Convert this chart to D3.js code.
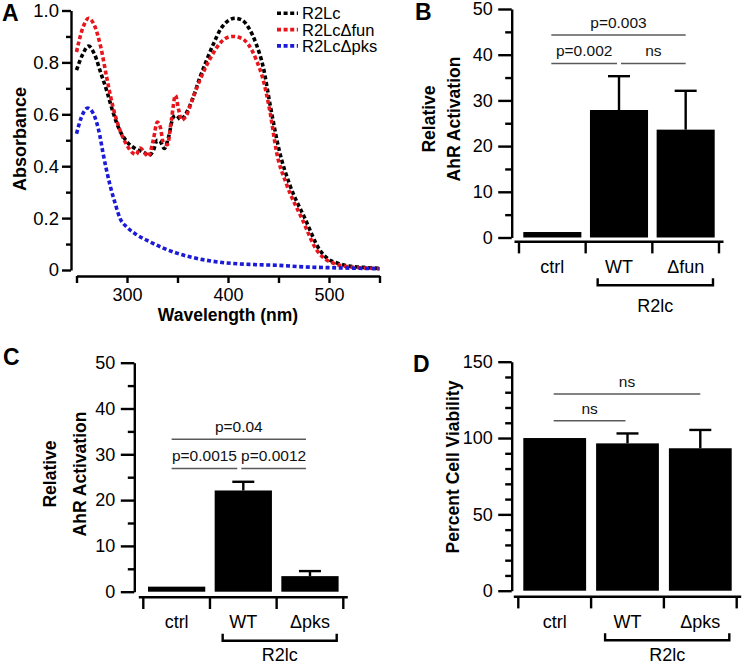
<!DOCTYPE html>
<html>
<head>
<meta charset="utf-8">
<script src="https://cdn.jsdelivr.net/npm/d3@7/dist/d3.min.js"></script>
<style>
  html, body { margin: 0; padding: 0; background: #fff; }
  svg { display: block; }
</style>
</head>
<body>
<svg id="chart" width="742" height="666"></svg>
<script>
// ---------------- DATA ----------------
// Panel A: absorbance spectra [wavelength nm, absorbance]
const specR2Lc = [[250,.77],[256,.83],[262,.863],[268,.83],[274,.76],[280,.69],[286,.61],[292,.545],[300,.494],[308,.468],[316,.455],[322,.442],[326,.46],[330,.50],[333,.495],[337,.468],[341,.51],[346,.59],[349,.595],[353,.58],[358,.6],[365,.66],[372,.74],[379,.81],[386,.875],[393,.93],[400,.96],[407,.97],[414,.963],[421,.93],[428,.87],[435,.78],[442,.63],[451,.456],[461,.33],[476,.2],[491,.076],[500,.04],[508,.027],[520,.015],[535,.01],[550,.006]];
const specFun = [[250,.84],[256,.93],[262,.97],[268,.94],[274,.86],[280,.74],[286,.63],[292,.55],[300,.48],[306,.45],[309,.445],[313,.47],[317,.455],[321,.437],[326,.5],[330,.57],[333,.55],[336,.49],[340,.483],[344,.58],[348,.673],[351,.62],[354,.578],[358,.59],[365,.66],[372,.73],[379,.79],[386,.84],[393,.878],[400,.897],[405,.9],[412,.895],[420,.87],[428,.81],[435,.73],[442,.6],[448,.456],[458,.33],[473,.2],[488,.076],[497,.04],[505,.025],[520,.012],[535,.008],[550,.005]];
const specPks = [[250,.525],[255,.59],[261,.624],[267,.6],[273,.52],[276,.456],[283,.33],[288,.26],[293,.2],[300,.165],[310,.135],[320,.114],[335,.086],[350,.064],[375,.04],[399,.027],[425,.021],[449,.018],[475,.012],[500,.009],[525,.007],[550,.005]];
const seriesNames = ["R2Lc", "R2Lc\u0394fun", "R2Lc\u0394pks"];
const seriesColors = ["#000000", "#e8161c", "#1a1ad8"];
const absTicks = [0, 0.2, 0.4, 0.6, 0.8, 1.0];
const wlTicks = [300, 400, 500];

// Panel B
const catsB = ["ctrl", "WT", "\u0394fun"];
const valsB = [1.2, 27.9, 23.6];
const errB = [0, 7.4, 8.5];
const sigB = [
  {a: 0, b: 2, label: "p=0.003", v: 44.3},
  {a: 0, b: 1, label: "p=0.002", v: 38.1},
  {a: 1, b: 2, label: "ns", v: 38.1}
];
// Panel C
const catsC = ["ctrl", "WT", "\u0394pks"];
const valsC = [1.1, 22.1, 3.4];
const errC = [0, 1.9, 1.1];
const sigC = [
  {a: 0, b: 2, label: "p=0.04", v: 33.3},
  {a: 0, b: 1, label: "p=0.0015", v: 26.9},
  {a: 1, b: 2, label: "p=0.0012", v: 26.9}
];
// Panel D
const catsD = ["ctrl", "WT", "\u0394pks"];
const valsD = [100, 96.5, 93.3];
const errD = [0, 6.5, 12];
const sigD = [
  {a: 0, b: 2, label: "ns", v: 128.8},
  {a: 0, b: 1, label: "ns", v: 111.3}
];
const groupLabel = "R2lc";

// ---------------- DRAW ----------------
const FONT = "'Liberation Sans', Arial, Helvetica, sans-serif";
const svg = d3.select("#chart").style("font-family", FONT);
svg.append("rect").attr("width", 742).attr("height", 666).attr("fill", "#fff");

function styleAxis(sel, fs) {
  sel.selectAll("path, line").attr("stroke", "#000").attr("stroke-width", 2.4);
  sel.selectAll("text").attr("font-size", fs).attr("font-family", FONT).attr("fill", "#000");
  sel.attr("font-size", fs);
}
function panelLetter(t, x, y) {
  svg.append("text").attr("x", x).attr("y", y).text(t)
    .attr("font-size", 23).attr("font-weight", "bold").attr("fill", "#000");
}

// ---- Panel A ----
(function() {
  const x = d3.scaleLinear().domain([250, 550]).range([76.5, 379.5]);
  const y = d3.scaleLinear().domain([0, 1]).range([270, 10.5]);
  const ax = 71;
  const yMaj = svg.append("g").attr("transform", `translate(${ax},0)`)
    .call(d3.axisLeft(y).tickValues(absTicks).tickSize(9).tickPadding(3).tickSizeOuter(0)
      .tickFormat(d => d === 0 ? "0" : d3.format(".1f")(d)));
  styleAxis(yMaj, 18.5);
  const yMin = svg.append("g").attr("transform", `translate(${ax},0)`)
    .call(d3.axisLeft(y).tickValues([0.1, 0.3, 0.5, 0.7, 0.9]).tickSize(5).tickFormat("").tickSizeOuter(0));
  styleAxis(yMin, 18);
  yMin.select("path").remove();

  const xMaj = svg.append("g").attr("transform", "translate(0,276)")
    .call(d3.axisBottom(x).tickValues(wlTicks).tickSize(7).tickPadding(5).tickSizeOuter(0));
  styleAxis(xMaj, 18);
  const xMin = svg.append("g").attr("transform", "translate(0,276)")
    .call(d3.axisBottom(x).tickValues([250, 350, 450, 550]).tickSize(7).tickFormat("").tickSizeOuter(0));
  styleAxis(xMin, 18);
  xMin.select("path").remove();

  svg.append("text").attr("transform", "translate(20,139) rotate(-90)")
    .attr("text-anchor", "middle").attr("dy", "0.35em")
    .attr("font-size", 18).attr("font-weight", "bold").text("Absorbance");
  svg.append("text").attr("x", 228).attr("y", 320.5).attr("text-anchor", "middle")
    .attr("font-size", 17.5).attr("font-weight", "bold").text("Wavelength (nm)");

  const line = d3.line().x(d => x(d[0])).y(d => y(d[1])).curve(d3.curveMonotoneX);
  const all = [specR2Lc, specFun, specPks];
  all.forEach((s, i) => {
    svg.append("path").attr("d", line(s)).attr("fill", "none")
      .attr("stroke", seriesColors[i]).attr("stroke-width", 3.6)
      .attr("stroke-dasharray", "4 2.6");
  });

  // legend
  seriesNames.forEach((n, i) => {
    const ly = 13.3 + i * 16.3;
    svg.append("line").attr("x1", 277).attr("x2", 298).attr("y1", ly).attr("y2", ly)
      .attr("stroke", seriesColors[i]).attr("stroke-width", 3.6).attr("stroke-dasharray", "4 2.6");
    svg.append("text").attr("x", 302).attr("y", ly).attr("dy", "0.36em")
      .attr("font-size", 16.5).attr("fill", "#000").text(n);
  });
  panelLetter("A", 2, 21);
})();

// ---- Bar panels ----
function barPanel(o) {
  const y = d3.scaleLinear().domain([0, o.yMax]).range([o.y0, o.y1]);
  const x = d3.scaleBand().domain(o.cats.map((c, i) => i)).range(o.xRange).padding(0);
  const bw = x.bandwidth();
  const cx = i => x(i) + bw / 2;

  // bars
  svg.append("g").selectAll("rect").data(o.vals).join("rect")
    .attr("x", (d, i) => x(i) + o.inset).attr("width", bw - 2 * o.inset)
    .attr("y", d => y(d)).attr("height", d => y(0) - y(d)).attr("fill", "#000");
  // error bars (upper)
  const eg = svg.append("g");
  o.vals.forEach((v, i) => {
    if (!o.errs[i]) return;
    const yt = y(v + o.errs[i]);
    eg.append("line").attr("x1", cx(i)).attr("x2", cx(i)).attr("y1", y(v)).attr("y2", yt)
      .attr("stroke", "#000").attr("stroke-width", 2.4);
    eg.append("line").attr("x1", cx(i) - 11).attr("x2", cx(i) + 11).attr("y1", yt).attr("y2", yt)
      .attr("stroke", "#000").attr("stroke-width", 2.4);
  });

  // y axis
  const ya = svg.append("g").attr("transform", `translate(${o.ax},0)`)
    .call(d3.axisLeft(y).tickValues(o.major).tickSize(13.5).tickPadding(5.5).tickSizeOuter(0));
  styleAxis(ya, 18);
  const ym = svg.append("g").attr("transform", `translate(${o.ax},0)`)
    .call(d3.axisLeft(y).tickValues(o.minor).tickSize(6.5).tickFormat("").tickSizeOuter(0));
  styleAxis(ym, 18);
  ym.select("path").remove();

  // x axis line + boundary ticks
  const n = o.cats.length;
  const bounds = d3.range(n + 1).map(i => o.xRange[0] + i * bw);
  svg.append("line").attr("x1", o.xRange[0] - 4.5).attr("x2", o.xRange[1] + 4.5)
    .attr("y1", o.xAxisY).attr("y2", o.xAxisY).attr("stroke", "#000").attr("stroke-width", 2.4);
  bounds.forEach(b => {
    svg.append("line").attr("x1", b).attr("x2", b).attr("y1", o.xAxisY).attr("y2", o.xAxisY + 11.7)
      .attr("stroke", "#000").attr("stroke-width", 2.4);
  });
  o.cats.forEach((c, i) => {
    svg.append("text").attr("x", cx(i)).attr("y", o.xAxisY + 31).attr("text-anchor", "middle")
      .attr("font-size", 18).attr("fill", "#000").text(c);
  });
  // bracket under WT + mutant
  const bx1 = x(1) + o.brL, bx2 = x(n - 1) + bw - o.brR, by = o.xAxisY + 43.5;
  svg.append("path").attr("d", `M${bx1},${by - 7}V${by}H${bx2}V${by - 7}`)
    .attr("fill", "none").attr("stroke", "#000").attr("stroke-width", 2.4);
  svg.append("text").attr("x", (bx1 + bx2) / 2).attr("y", o.xAxisY + o.grpDy).attr("text-anchor", "middle")
    .attr("font-size", 18).attr("fill", "#000").text(groupLabel);

  // significance
  o.sigs.forEach(s => {
    const x1 = cx(s.a) + (s.a > 0 ? 2 : -1) + o.sigShift;
    const x2 = cx(s.b) - (s.b < n - 1 ? 2 : 0) + o.sigShift;
    const ly = y(s.v);
    svg.append("line").attr("x1", x1).attr("x2", x2).attr("y1", ly).attr("y2", ly)
      .attr("stroke", "#5a5a5a").attr("stroke-width", 1.5);
    svg.append("text").attr("x", (x1 + x2) / 2).attr("y", ly - 7).attr("text-anchor", "middle")
      .attr("font-size", 15.5).attr("fill", "#111").text(s.label);
  });

  // y label
  o.ylab.forEach((t, i) => {
    svg.append("text").attr("transform", `translate(${o.ylabX[i]},${o.ylabY}) rotate(-90)`)
      .attr("text-anchor", "middle").attr("dy", "0.35em")
      .attr("font-size", 17.5).attr("font-weight", "bold").attr("fill", "#000").text(t);
  });
}

barPanel({
  cats: catsB, vals: valsB, errs: errB, sigs: sigB, yMax: 50,
  y0: 237.5, y1: 9, ax: 511.7, xRange: [519, 719], inset: 4.3, xAxisY: 241.7,
  major: [0, 10, 20, 30, 40, 50], minor: [5, 15, 25, 35, 45],
  brL: 12, brR: 6, grpDy: 70, sigShift: 0,
  ylab: ["Relative", "AhR Activation"], ylabX: [428.5, 454], ylabY: 119
});
panelLetter("B", 415, 19.5);

barPanel({
  cats: catsC, vals: valsC, errs: errC, sigs: sigC, yMax: 50,
  y0: 591.7, y1: 362.7, ax: 134.3, xRange: [143.3, 343.3], inset: 4.7, xAxisY: 597.3,
  major: [0, 10, 20, 30, 40, 50], minor: [5, 15, 25, 35, 45],
  brL: 12.7, brR: 6.6, grpDy: 64, sigShift: -4,
  ylab: ["Relative", "AhR Activation"], ylabX: [50, 80], ylabY: 474
});
panelLetter("C", 3, 365);

barPanel({
  cats: catsD, vals: valsD, errs: errD, sigs: sigD, yMax: 150,
  y0: 590.7, y1: 361.7, ax: 511.7, xRange: [518.3, 736.7], inset: 5, xAxisY: 596.7,
  major: [0, 50, 100, 150], minor: [10, 20, 30, 40, 60, 70, 80, 90, 110, 120, 130, 140],
  brL: 14, brR: 7.4, grpDy: 64.5, sigShift: 0,
  ylab: ["Percent Cell Viability"], ylabX: [453.3], ylabY: 467
});
panelLetter("D", 413, 371.5);
</script>
</body>
</html>
